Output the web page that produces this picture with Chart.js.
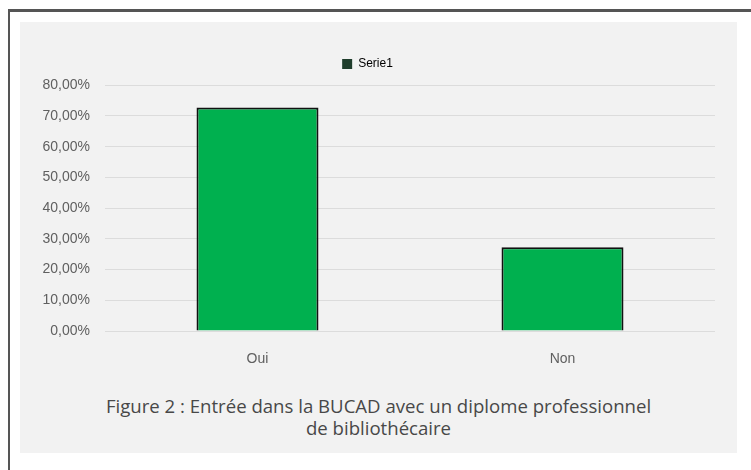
<!DOCTYPE html>
<html>
<head>
<meta charset="utf-8">
<script src="https://cdn.jsdelivr.net/npm/chart.js@4"></script>
<style>
  body { margin: 0; background: #fff; }
  #frame { position: absolute; left: 8px; top: 9px; width: 760px; height: 470px;
           border-top: 3px solid #555; border-left: 2px solid #555; }
  #box { position: absolute; left: 20px; top: 22px; width: 717px; height: 431px; background: #f2f2f2; }
  #wrap { position: absolute; left: 0; top: 0; width: 717px; height: 350px; }
  #caption { position: absolute; left: 0; top: 373px; width: 717px; text-align: center;
             font-family: "Open Sans", sans-serif; font-size: 18.6px; font-weight: 500; line-height: 22px; color: #484848; }
</style>
</head>
<body>
<div id="frame"></div>
<div id="box">
  <div id="wrap"><canvas id="c"></canvas></div>
  <div id="caption">Figure 2 : Entrée dans la BUCAD avec un diplome professionnel<br>de bibliothécaire</div>
</div>
<script>
const categories = ['Oui', 'Non'];
const serie1 = [72.73, 27.27];
const yTicks = [0, 10, 20, 30, 40, 50, 60, 70, 80];

const fmt = v => v.toFixed(2).replace('.', ',') + '%';

new Chart(document.getElementById('c'), {
  type: 'bar',
  data: {
    labels: categories,
    datasets: [{
      label: 'Serie1',
      data: serie1,
      backgroundColor: '#00b04f',
      borderColor: '#111',
      borderWidth: 2,
      barPercentage: 0.4,
      categoryPercentage: 1
    }]
  },
  options: {
    responsive: true,
    maintainAspectRatio: false,
    animation: false,
    layout: { padding: { top: 16, right: 22, left: 0, bottom: 0 } },
    plugins: {
      legend: {
        position: 'top',
        labels: {
          boxWidth: 10, boxHeight: 10, padding: 20,
          color: '#707070',
          font: { family: 'Liberation Sans', size: 12 },
          generateLabels: chart => [{
            text: 'Serie1', fillStyle: '#1f3d2c', strokeStyle: '#1f3d2c', lineWidth: 0, datasetIndex: 0
          }]
        }
      },
      // empty spacer below the legend
      title: { display: true, text: '', weight: 500, font: { size: 1 }, padding: { top: 0, bottom: 4 } },
      tooltip: { enabled: false }
    },
    scales: {
      x: {
        grid: { display: false },
        border: { display: false },
        ticks: { color: '#606060', padding: 12, font: { family: 'Liberation Sans', size: 14 } },
        afterFit: s => { s.height = 41; }
      },
      y: {
        min: 0, max: 80,
        afterBuildTicks: s => { s.ticks = yTicks.map(v => ({ value: v })); },
        grid: { color: '#dcdcdc', drawTicks: false },
        border: { display: false },
        ticks: { color: '#606060', padding: 15, callback: v => fmt(v), font: { family: 'Liberation Sans', size: 14 } },
        afterFit: s => { s.width = 85; }
      }
    }
  }
});
</script>
</body>
</html>
